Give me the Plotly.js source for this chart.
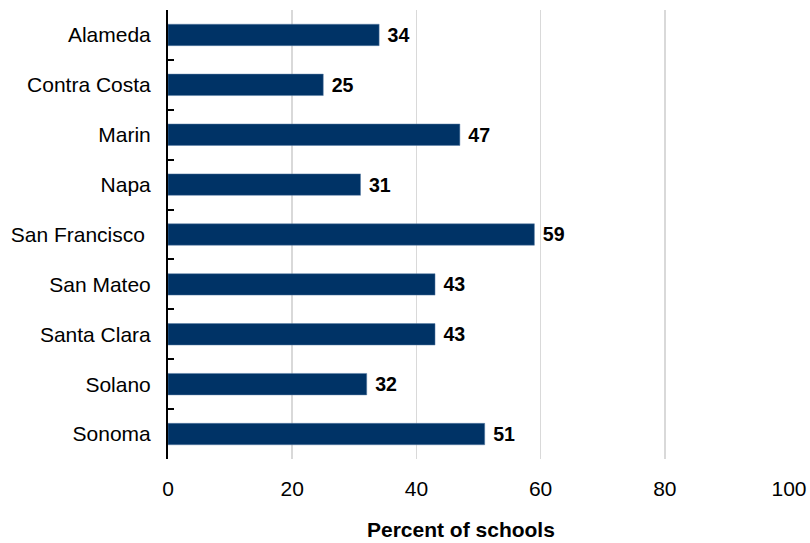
<!DOCTYPE html>
<html><head><meta charset="utf-8">
<script src="https://cdn.plot.ly/plotly-3.0.1.min.js"></script>
<style>html,body{margin:0;padding:0;background:#fff}</style>
</head><body>
<div id="chart" style="width:810px;height:543px"></div>
<script>
const counties = ["Alameda","Contra Costa","Marin","Napa","San Francisco ","San Mateo","Santa Clara","Solano","Sonoma"];
const percents = [34, 25, 47, 31, 59, 43, 43, 32, 51];
const xTicks = [0, 20, 40, 60, 80, 100];
const xTitle = "Percent of schools";

const trace = {
  type: "bar",
  orientation: "h",
  y: counties,
  x: percents,
  text: percents.map(v => "<b>\u00a0" + v + "</b>"),
  textposition: "outside",
  cliponaxis: false,
  textfont: {family: "Liberation Sans, Arial, sans-serif", size: 21, color: "#000"},
  marker: {color: "#003366", line: {color: "#5a7fa6", width: 0.5}},
  hoverinfo: "none"
};

const layout = {
  width: 810, height: 543,
  margin: {l: 168, r: 21, t: 10, b: 84},
  paper_bgcolor: "#fff", plot_bgcolor: "#fff",
  font: {family: "Liberation Sans, Arial, sans-serif", size: 21, color: "#000"},
  bargap: 0.57,
  showlegend: false,
  xaxis: {
    range: [0, 100],
    tickvals: xTicks,
    ticktext: xTicks.map(String),
    showgrid: true, gridcolor: "#d9d9d9", gridwidth: 1.5,
    zeroline: false, showline: false, ticks: "",
    ticklabelstandoff: 15,
    tickfont: {size: 21}
  },
  yaxis: {
    type: "category",
    autorange: "reversed",
    showline: true, linecolor: "#000", linewidth: 2,
    ticks: "inside", tickson: "boundaries", ticklen: 6, tickwidth: 2, tickcolor: "#000",
    showgrid: false, zeroline: false,
    ticklabelstandoff: 11,
    tickfont: {size: 21}
  },
  annotations: [{
    text: "<b>" + xTitle + "</b>",
    xref: "paper", yref: "paper",
    x: 0.4726, y: -0.158,
    xanchor: "center", yanchor: "middle",
    showarrow: false,
    font: {size: 21, color: "#000"}
  }]
};

Plotly.newPlot("chart", [trace], layout, {displayModeBar: false, staticPlot: true});
</script>
</body></html>
